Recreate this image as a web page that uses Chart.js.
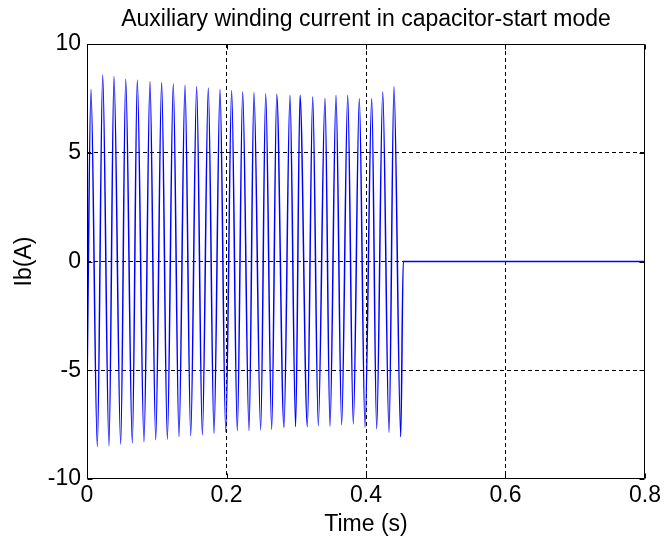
<!DOCTYPE html>
<html>
<head>
<meta charset="utf-8">
<script src="https://cdn.jsdelivr.net/npm/chart.js@4.4.1/dist/chart.umd.min.js"></script>
<style>
  html, body { margin: 0; padding: 0; background: #ffffff; }
  #c { display: block; }
</style>
</head>
<body>
<canvas id="c" width="664" height="542"></canvas>
<script>
// ---- Data ----
const chartTitle = "Auxiliary winding current in capacitor-start mode";
const xAxisTitle = "Time (s)";
const yAxisTitle = "Ib(A)";
const xTickValues = [0, 0.2, 0.4, 0.6, 0.8];
const yTickValues = [-10, -5, 0, 5, 10];

// start of the trace
const startTime = [0];
const startValue = [-5.9];

// positive peaks (s, A)
const peakTimes = [0.0057, 0.0225, 0.0387, 0.0555, 0.0721, 0.0903, 0.1070, 0.1237, 0.1405,
  0.1572, 0.1739, 0.1907, 0.2074, 0.2232, 0.2394, 0.2562, 0.2720, 0.2910, 0.3054, 0.3236,
  0.3412, 0.3570, 0.3738, 0.3904, 0.4082, 0.4240, 0.4401];
const peakValues = [7.92, 8.57, 8.50, 8.38, 8.34, 8.28, 8.23, 8.17, 8.10,
  8.05, 7.98, 7.92, 7.86, 7.81, 7.77, 7.72, 7.69, 7.64, 7.64, 7.57,
  7.50, 7.64, 7.64, 7.49, 7.49, 7.81, 8.05];

// negative peaks (s, A)
const troughTimes = [0.0148, 0.0315, 0.0483, 0.0650, 0.0817, 0.0985, 0.1152, 0.1319, 0.1487,
  0.1654, 0.1821, 0.1989, 0.2155, 0.2323, 0.2490, 0.2648, 0.2824, 0.2991, 0.3159, 0.3316,
  0.3484, 0.3651, 0.3818, 0.3986, 0.4153, 0.4330, 0.4498];
const troughValues = [-8.51, -8.47, -8.40, -8.35, -8.29, -8.20, -8.17, -8.06, -8.01,
  -7.97, -7.91, -7.83, -7.78, -7.78, -7.74, -7.72, -7.63, -7.60, -7.60, -7.55,
  -7.58, -7.50, -7.47, -7.63, -7.70, -7.86, -8.06];

// after the auxiliary winding is disconnected
const offTimes = [0.4534, 0.8];
const offValues = [0, 0];

// ---- Build the point list for the library ----
const pts = [];
startTime.forEach((t, i) => pts.push({ x: t, y: startValue[i] }));
peakTimes.forEach((t, i) => pts.push({ x: t, y: peakValues[i] }));
troughTimes.forEach((t, i) => pts.push({ x: t, y: troughValues[i] }));
offTimes.forEach((t, i) => pts.push({ x: t, y: offValues[i] }));
pts.sort((a, b) => a.x - b.x);

const FONT = "'Liberation Sans', Arial, Helvetica, sans-serif";

const boxPlugin = {
  id: 'box',
  afterDraw(chart) {
    const ctx = chart.ctx;
    const a = chart.chartArea;
    const xs = chart.scales.x, ys = chart.scales.y;
    ctx.save();
    ctx.strokeStyle = '#000';
    ctx.lineWidth = 1;
    ctx.setLineDash([]);
    const L = Math.round(a.left) + 0.5, R = Math.round(a.right) - 0.5;
    const T = Math.round(a.top) + 0.5, B = Math.round(a.bottom) - 0.5;
    ctx.beginPath();
    ctx.rect(L, T, R - L, B - T);
    // inward tick marks
    const tl = 5;
    xTickValues.forEach(v => {
      const px = Math.round(xs.getPixelForValue(v)) + 0.5;
      ctx.moveTo(px, B); ctx.lineTo(px, B - tl);
      ctx.moveTo(px, T); ctx.lineTo(px, T + tl);
    });
    yTickValues.forEach(v => {
      const py = Math.round(ys.getPixelForValue(v)) + 0.5;
      ctx.moveTo(L, py); ctx.lineTo(L + tl, py);
      ctx.moveTo(R, py); ctx.lineTo(R - tl, py);
    });
    ctx.stroke();
    ctx.restore();
  }
};

function gridColor(ctx) {
  const v = ctx.tick ? ctx.tick.value : null;
  const s = ctx.scale;
  if (v === null) return '#000';
  if (Math.abs(v - s.min) < 1e-9 || Math.abs(v - s.max) < 1e-9) return 'rgba(0,0,0,0)';
  return '#000';
}

new Chart(document.getElementById('c'), {
  type: 'line',
  data: {
    datasets: [{
      data: pts,
      borderColor: '#0000ff',
      borderWidth: 1.5,
      pointRadius: 0,
      fill: false,
      cubicInterpolationMode: 'monotone'
    }]
  },
  options: {
    responsive: false,
    animation: false,
    devicePixelRatio: 1,
    layout: { padding: { left: 0, right: 19, top: 0, bottom: 0 } },
    plugins: {
      legend: { display: false },
      tooltip: { enabled: false },
      title: {
        display: true,
        text: chartTitle,
        color: '#000',
        fullSize: false,
        font: { family: FONT, size: 23, weight: 'normal', lineHeight: 1.2 },
        padding: { top: 6, bottom: 10.4 }
      }
    },
    scales: {
      x: {
        type: 'linear',
        min: 0, max: 0.8,
        afterFit(s) { s.height = 63; },
        afterBuildTicks(s) { s.ticks = xTickValues.map(v => ({ value: v })); },
        ticks: {
          color: '#000',
          font: { family: FONT, size: 23 },
          padding: 3,
          maxRotation: 0,
          autoSkip: false,
          callback: v => String(v)
        },
        grid: { color: gridColor, lineWidth: 1, drawTicks: false },
        border: { display: false, dash: [4, 3] },
        title: {
          display: true,
          text: xAxisTitle,
          color: '#000',
          font: { family: FONT, size: 23, lineHeight: 1.2 },
          padding: { top: 0, bottom: 4 }
        }
      },
      y: {
        type: 'linear',
        min: -10, max: 10,
        afterFit(s) { s.width = 87; },
        afterBuildTicks(s) { s.ticks = yTickValues.map(v => ({ value: v })); },
        ticks: {
          color: '#000',
          font: { family: FONT, size: 23 },
          padding: 6,
          autoSkip: false,
          callback: v => String(v)
        },
        grid: { color: gridColor, lineWidth: 1, drawTicks: false },
        border: { display: false, dash: [4, 3] },
        title: {
          display: true,
          text: yAxisTitle,
          color: '#000',
          font: { family: FONT, size: 23, lineHeight: 1.2 },
          padding: { top: 11, bottom: 0 }
        }
      }
    }
  },
  plugins: [boxPlugin]
});
</script>
</body>
</html>
